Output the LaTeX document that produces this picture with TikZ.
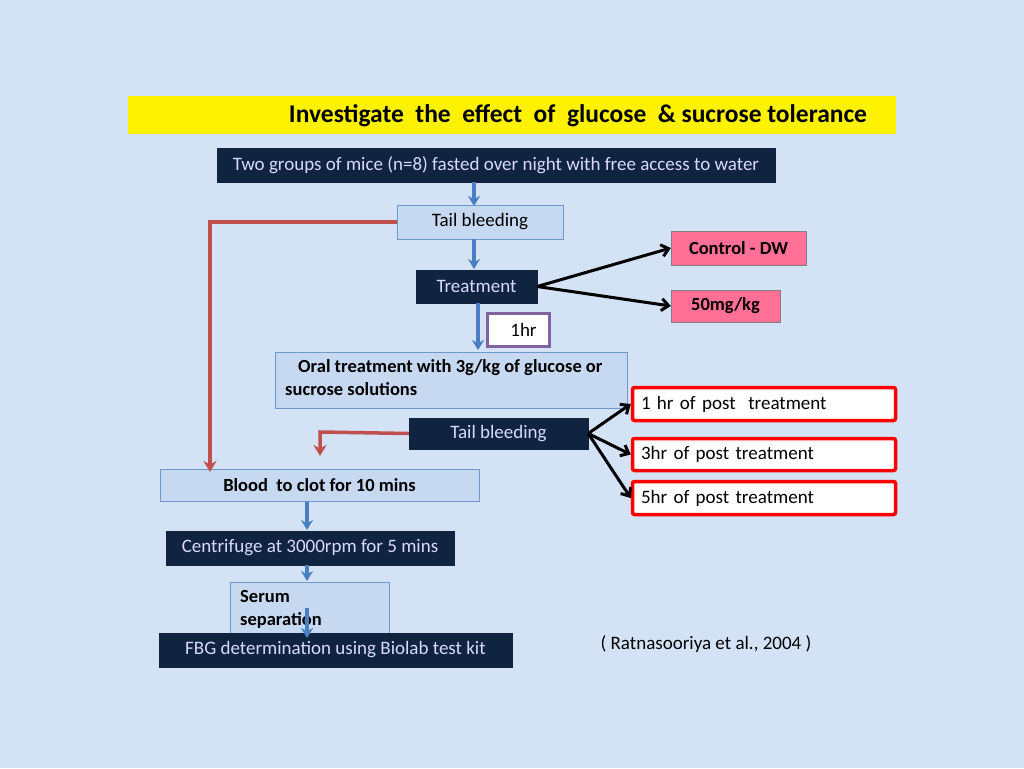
\documentclass[tikz,border=0pt]{standalone}
\usepackage{fontspec}
\setmainfont{Carlito}
\usetikzlibrary{arrows.meta}
\definecolor{bg}{HTML}{D3E2F4}
\definecolor{navy}{HTML}{10243F}
\definecolor{lbox}{HTML}{C6D9F1}
\definecolor{barrow}{HTML}{4A7EC2}
\definecolor{rarrow}{HTML}{C0504D}
\definecolor{pinkb}{HTML}{FF6F96}
\definecolor{purp}{HTML}{8064A2}
\begin{document}
\begin{tikzpicture}[x=1pt,y=-1pt,
  fs/.style={font=\fontsize{19}{22}\selectfont},
  dark/.style={fs,draw=navy,fill=navy,text=white!85!blue,inner sep=0pt},
  light/.style={fs,draw=barrow!80,fill=lbox,text=black,inner sep=0pt},
  pink/.style={draw=gray,fill=pinkb,font=\bfseries\fontsize{18.5}{22}\selectfont,inner sep=0pt},
  redb/.style={fs,draw=red,line width=3.5pt,fill=white,rounded corners=2pt,inner sep=0pt},
  barr/.style={draw=barrow,line width=3.5pt,-{Stealth[length=10pt,width=12pt]}},
  rarr/.style={draw=rarrow,line width=3.5pt,-{Stealth[length=11pt,width=13pt]}},
  karr/.style={draw=black,line width=3pt,-{Straight Barb[length=7pt,width=12pt]}}]
\fill[bg] (0,0) rectangle (1024,768);
\useasboundingbox (0,0) rectangle (1024,768);
\node[fill=yellow,minimum width=768pt,minimum height=38pt,inner sep=0pt] (title) at (512,115) {};
\node[font=\bfseries\fontsize{25.5}{28}\selectfont] (titletext) at (578,116) {Investigate\ \ the\ \ effect\ \ of\ \ glucose\ \ \& sucrose tolerance};
\node[dark,minimum width=558pt,minimum height=34pt] (b1) at (496,165) {Two groups of mice (n=8) fasted over night with free access to water};
\node[light,minimum width=166pt,minimum height=34pt] (tb1) at (480,222) {Tail bleeding};
\node[dark,minimum width=121pt,minimum height=33pt] (tr) at (476.5,286.5) {Treatment};
\node[pink,minimum width=135pt,minimum height=34pt] (cd) at (738.5,248) {Control - DW};
\node[pink,minimum width=109pt,minimum height=32pt] (mg) at (725.5,306) {50mg/kg};
\node[fs,draw=purp,line width=3pt,fill=white,minimum width=62pt,minimum height=33pt,inner sep=0pt] (hr) at (518.5,330) {\hspace{10pt}1hr};
\node[light,minimum width=352pt,minimum height=56pt] (oral) at (451,380) {};
\node[font=\bfseries\fontsize{18.5}{23}\selectfont,align=left,anchor=north west,inner sep=0pt] (oralt) at (285,359) {\hspace{13pt}Oral treatment with 3g/kg of glucose or\\sucrose solutions};
\node[dark,minimum width=179pt,minimum height=31pt] (tb2) at (498.5,433.5) {Tail bleeding};
\node[redb,minimum width=263pt,minimum height=33pt,text width=246pt,align=left] (r1) at (764,404) {1 hr of post\ \ treatment};
\node[redb,minimum width=263pt,minimum height=32pt,text width=246pt,align=left] (r3) at (764,454.5) {3hr of post treatment};
\node[redb,minimum width=263pt,minimum height=33pt,text width=246pt,align=left] (r5) at (764,498) {5hr of post treatment};
\node[light,minimum width=319pt,minimum height=32pt,font=\bfseries\fontsize{18.5}{22}\selectfont] (blood) at (319.5,485) {Blood\ \ to clot for 10 mins\hspace{30pt}};
\node[dark,minimum width=288pt,minimum height=34pt] (cen) at (310,548) {Centrifuge at 3000rpm for 5 mins};
\node[light,minimum width=159pt,minimum height=58pt] (ser) at (309.5,611) {};
\node[font=\bfseries\fontsize{18.5}{23}\selectfont,align=left,anchor=north west,inner sep=0pt] (sert) at (240,590) {Serum\\separation};
\node[dark,minimum width=353pt,minimum height=34pt] (fbg) at (335.5,650) {FBG determination using Biolab test kit};
\node[fs] (cit) at (706,644) {( Ratnasooriya et al., 2004 )};
\coordinate (c1) at (210,222);
\coordinate (c2) at (320,432);
\draw[barr] (474,182) -- (474,206);
\draw[barr] (474,239) -- (474,269);
\draw[barr] (478,303) -- (478,350);
\draw[barr] (307,502) -- (307,530);
\draw[barr] (307,565) -- (307,581);
\draw[barr] (307,608) -- (307,638);
\draw[karr] (tr.east) -- (cd.west);
\draw[karr] (tr.east) -- (mg.west);
\draw[karr] (tb2.east) -- (r1.west);
\draw[karr] (tb2.east) -- (r3.west);
\draw[karr] (tb2.east) -- (r5.west);
\draw[rarr] (tb1.west) -- (c1) -- (210,472);
\draw[rarr] (tb2.west) -- (c2) -- (320,456);
\end{tikzpicture}
\end{document}
